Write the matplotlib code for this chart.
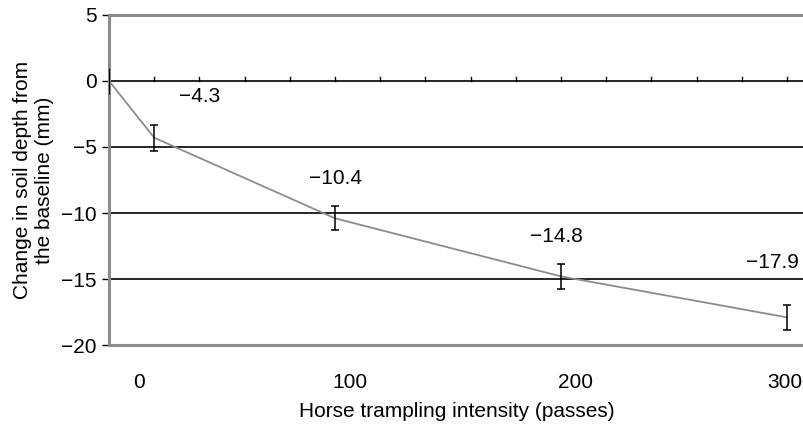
import matplotlib.pyplot as plt
import matplotlib.transforms as mtransforms
import numpy as np

plt.rcParams['font.family'] = ['Liberation Sans', 'DejaVu Sans']

# data
passes = [0, 20, 100, 200, 300]
depth = [0, -4.3, -10.4, -14.8, -17.9]
err = [1.0, 1.0, 0.9, 0.95, 0.95]
labels = ['\u22124.3', '\u221210.4', '\u221214.8', '\u221217.9']
yticks = [5, 0, -5, -10, -15, -20]
xticks = [0, 100, 200, 300]

fs = 15

fig = plt.figure(figsize=(8.04, 4.25), dpi=100)
ax = fig.add_axes([0.1356, 0.188, 0.8644, 0.777])

ax.set_xlim(0, 307.5)
ax.set_ylim(-20, 5)

# grid lines
for y in [-5, -10, -15]:
    ax.axhline(y, color='black', lw=1.2, zorder=1)
ax.axhline(0, color='black', lw=1.2, zorder=1)
# small ticks on the zero line
for x in np.arange(20, 301, 20):
    ax.plot([x, x], [0, 0.32], color='black', lw=1, zorder=1)

ax.plot(passes, depth, color='#8c8c8c', lw=1.3, zorder=2)
ax.errorbar(passes[1:], depth[1:], yerr=err[1:], fmt='none', ecolor='black',
            elinewidth=1.1, capsize=3, capthick=1.1, zorder=3)
ax.errorbar(passes[:1], depth[:1], yerr=err[:1], fmt='none', ecolor='black',
            elinewidth=0.8, capsize=0, zorder=3)

offsets = [(45, 41), (0, 40), (-5, 40), (-15, 55)]
for x, y, t, off in zip(passes[1:], depth[1:], labels, offsets):
    ax.annotate(t, (x, y), xytext=(off[0] * 0.72, off[1] * 0.72),
                textcoords='offset points', ha='center', va='center',
                fontsize=fs)

for s in ['left', 'bottom', 'top']:
    ax.spines[s].set_color('#8c8c8c')
    ax.spines[s].set_linewidth(2.2)
ax.spines['right'].set_visible(False)

ax.set_yticks(yticks)
ax.set_yticklabels([str(v).replace('-', '\u2212') for v in yticks], fontsize=fs)
ax.tick_params(axis='y', length=5, width=1, color='black', pad=4)
ax.set_xticks(xticks)
ax.set_xticklabels([str(v) for v in xticks], fontsize=fs)
ax.tick_params(axis='x', length=0, pad=20)
shifts = [30, 15, 14, -2]
for lab, dx in zip(ax.get_xticklabels(), shifts):
    lab.set_transform(lab.get_transform() +
                      mtransforms.ScaledTranslation(dx / 100, 0, fig.dpi_scale_trans))

ax.set_xlabel('Horse trampling intensity (passes)', fontsize=fs, labelpad=7)
ax.set_ylabel('Change in soil depth from\nthe baseline (mm)', fontsize=fs,
              labelpad=5)

fig.savefig('out.png', dpi=100)
